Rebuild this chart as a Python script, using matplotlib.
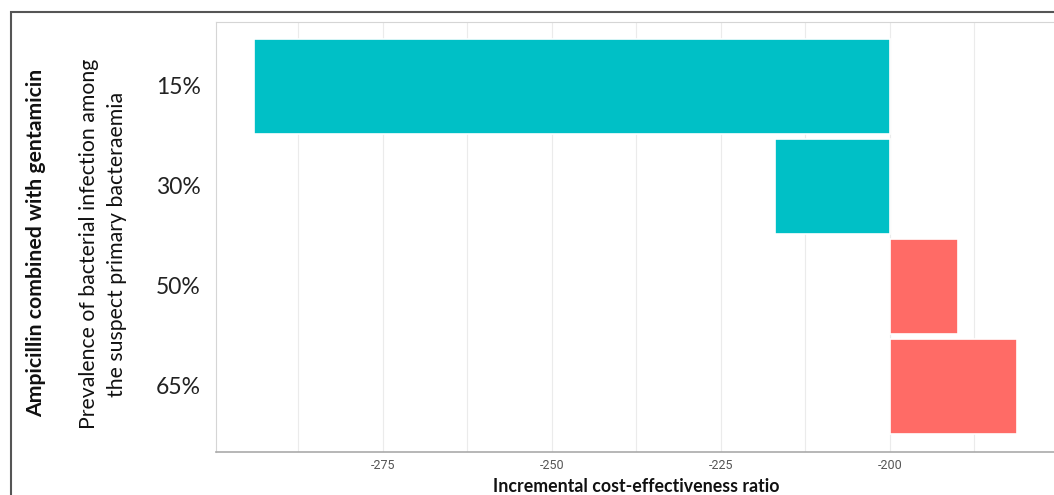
import matplotlib.pyplot as plt
from matplotlib.patches import Rectangle

# tornado chart data: bars start from the base ICER and end at the value.
categories = ['15%', '30%', '50%', '65%']
icer_values = [-294.1, -217.0, -189.9, -181.1]
base_icer = -200

x_ticks = [-275, -250, -225, -200]
minor_ticks = [-287.5, -262.5, -237.5, -212.5, -187.5]

teal = '#00C0C6'
red = '#FF6B66'

fig = plt.figure(figsize=(10.54, 4.95), dpi=100)
ax = fig.add_axes([216 / 1054, 1 - 452 / 495, 840 / 1054, 430 / 495])

# one bar per prevalence, coloured by the side of the base value.
for i, (cat, val) in enumerate(zip(categories, icer_values)):
    col = teal if val < base_icer else red
    ax.barh(i, val - base_icer, left=base_icer, height=0.95,
            color=col, edgecolor='white', linewidth=1.2, zorder=3)

ax.set_xlim(-299.7, -175.4)
ax.set_ylim(len(categories) - 1 + 0.66, -0.64)

ax.set_xticks(x_ticks)
ax.set_xticks(minor_ticks, minor=True)
ax.set_xticklabels([str(t) for t in x_ticks], family='Roboto', fontsize=9, color='#555555')
ax.set_yticks(range(len(categories)))
ax.set_yticklabels(categories, family='Lato', fontsize=16.5, color='#222222')
ax.tick_params(axis='both', which='both', length=0)
ax.tick_params(axis='x', pad=5)
ax.tick_params(axis='y', pad=11)

ax.grid(axis='x', which='both', color='#EBEBEB', linewidth=0.8, zorder=0)
ax.grid(axis='y', visible=False)

for side in ['left', 'top']:
    ax.spines[side].set_color('#D5D5D5')
    ax.spines[side].set_linewidth(0.8)
ax.spines['right'].set_visible(False)
ax.spines['bottom'].set_color('#AAAAAA')
ax.spines['bottom'].set_linewidth(1.2)

ax.set_xlabel('Incremental cost-effectiveness ratio', family='Lato', fontweight='bold',
              fontsize=12.8, color='#111111', labelpad=4)

# y titles: prevalence (two lines) and the bold drug label further out.
fig.text(103 / 1054, 1 - 244 / 495, 'Prevalence of bacterial infection among\nthe suspect primary bacteraemia',
         rotation=90, ha='center', va='center', family='Lato', fontsize=15.3,
         color='#111111', linespacing=1.45)
fig.text(36 / 1054, 1 - 243 / 495, 'Ampicillin combined with gentamicin', rotation=90,
         ha='center', va='center', family='Lato', fontweight='bold', fontsize=15.3, color='#111111')

# outer frame of the original figure panel.
fig.patches.append(Rectangle((11 / 1054, -0.1), 1.2, 1 - 12 / 495 + 0.1, transform=fig.transFigure,
                             fill=False, edgecolor='#555555', linewidth=1.5))

fig.savefig('out.png', dpi=100)
